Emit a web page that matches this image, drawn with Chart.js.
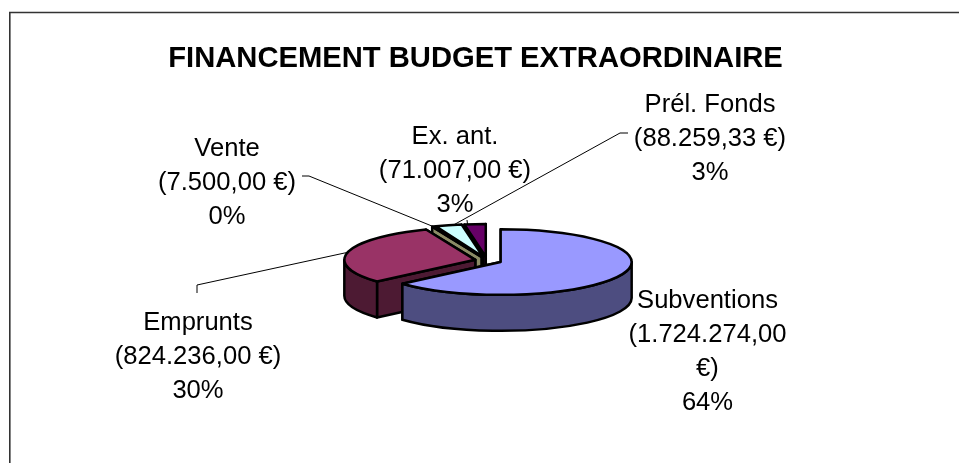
<!DOCTYPE html>
<html><head><meta charset="utf-8">
<style>html,body{margin:0;padding:0;background:#fff;overflow:hidden}#w{position:relative;width:959px;height:463px}canvas{display:block}</style>
<script src="https://cdn.jsdelivr.net/npm/chart.js@4/dist/chart.umd.min.js"></script>
</head><body><div id="w"><canvas id="c" width="959" height="463"></canvas></div>
<script>
const titleText = 'FINANCEMENT BUDGET EXTRAORDINAIRE';
const categories = ['Subventions', 'Emprunts', 'Vente', 'Prél. Fonds', 'Ex. ant.'];
const seriesValues = [1724274.00, 824236.00, 7500.00, 88259.33, 71007.00];
const amountLines = [['(1.724.274,00', '€)'], ['(824.236,00 €)'], ['(7.500,00 €)'], ['(88.259,33 €)'], ['(71.007,00 €)']];
const percentLabels = ['64%', '30%', '0%', '3%', '3%'];
const topColors = ['#9999FF', '#993366', '#999966', '#CCFFFF', '#660066'];
const sideColors = ['#4D4D80', '#4D1A33', '#8C8C66', '#668080', '#330033'];

// 3D look of the pie
const PIE = {cx: 487, cy: 260.5, radius: 131, flatten: 0.25, depth: 36, line: 2.5};
const explodeBy = [15, 12, 15, 15, 15];
// label placement: centre x, first baseline, leader elbows, where the leader meets the slice
const LABEL_STEP = 33.9;
const labelPlaces = [
  {x: 707.5, y: 308, leader: [], along: 0.5},
  {x: 198, y: 330, leader: [[197, 293], [197, 285]], along: 0.5},
  {x: 227, y: 156, leader: [[302, 176], [309, 176]], along: 0.5},
  {x: 710, y: 112, leader: [[628, 133], [620, 133]], along: 0.69},
  {x: 455, y: 144, leader: [[467, 220]], along: 0.15}
];

function geom(arc, i) {
  const mid = (arc.startAngle + arc.endAngle) / 2;
  const cx = PIE.cx + Math.cos(mid) * explodeBy[i];
  const cy = PIE.cy + Math.sin(mid) * explodeBy[i] * PIE.flatten;
  const rx = arc.outerRadius, ry = rx * PIE.flatten;
  return {mid, cx, cy, rx, ry, at: a => [cx + rx * Math.cos(a), cy + ry * Math.sin(a)]};
}
function stroke3d(ctx, fill) {
  ctx.fillStyle = fill; ctx.fill();
  ctx.strokeStyle = '#000'; ctx.lineWidth = PIE.line; ctx.lineJoin = 'round'; ctx.stroke();
}
function drawFace(ctx, g, a, fill) {
  const p = g.at(a);
  ctx.beginPath();
  ctx.moveTo(g.cx, g.cy); ctx.lineTo(p[0], p[1]);
  ctx.lineTo(p[0], p[1] + PIE.depth); ctx.lineTo(g.cx, g.cy + PIE.depth);
  ctx.closePath(); stroke3d(ctx, fill);
}
function drawWall(ctx, g, s, e, fill) {
  // outer wall, only on the front half of the ellipse
  const ranges = [[0, Math.PI], [2 * Math.PI, 3 * Math.PI]];
  ranges.forEach(r => {
    const a1 = Math.max(s, r[0]), a2 = Math.min(e, r[1]);
    if (a2 <= a1) return;
    ctx.beginPath();
    ctx.ellipse(g.cx, g.cy, g.rx, g.ry, 0, a1, a2);
    ctx.ellipse(g.cx, g.cy + PIE.depth, g.rx, g.ry, 0, a2, a1, true);
    ctx.closePath(); stroke3d(ctx, fill);
  });
}
const pie3d = {
  id: 'pie3d',
  beforeDatasetDraw(chart, args) {
    const ctx = chart.ctx, arcs = args.meta.data;
    ctx.save();
    // walls, back to front
    for (let i = arcs.length - 1; i >= 0; i--) {
      const g = geom(arcs[i], i);
      drawFace(ctx, g, arcs[i].endAngle, sideColors[i]);
      drawFace(ctx, g, arcs[i].startAngle, sideColors[i]);
      drawWall(ctx, g, arcs[i].startAngle, arcs[i].endAngle, sideColors[i]);
    }
    // top surfaces, drawn by the library's own arc elements
    for (let i = arcs.length - 1; i >= 0; i--) {
      const arc = arcs[i], g = geom(arc, i);
      ctx.save();
      ctx.translate(g.cx, g.cy);
      ctx.scale(1, PIE.flatten);
      ctx.translate(-arc.x, -arc.y);
      arc.draw(ctx);
      ctx.restore();
      ctx.beginPath();
      ctx.moveTo(g.cx, g.cy);
      ctx.ellipse(g.cx, g.cy, g.rx, g.ry, 0, arc.startAngle, arc.endAngle);
      ctx.closePath();
      ctx.strokeStyle = '#000'; ctx.lineWidth = PIE.line; ctx.lineJoin = 'round'; ctx.stroke();
    }
    ctx.restore();
    return false;
  },
  afterDraw(chart) {
    const ctx = chart.ctx, arcs = chart.getDatasetMeta(0).data;
    ctx.save();
    // frame: top and left rules only
    ctx.strokeStyle = '#333'; ctx.lineWidth = 1.6;
    ctx.beginPath(); ctx.moveTo(959, 12.5); ctx.lineTo(9.8, 12.5); ctx.lineTo(9.8, 463); ctx.stroke();
    // leaders
    ctx.strokeStyle = '#000'; ctx.lineWidth = 1;
    labelPlaces.forEach((p, i) => {
      if (!p.leader.length) return;
      const arc = arcs[i], g = geom(arc, i);
      const end = g.at(arc.startAngle + (arc.endAngle - arc.startAngle) * p.along);
      ctx.beginPath();
      p.leader.forEach((q, k) => k ? ctx.lineTo(q[0], q[1]) : ctx.moveTo(q[0], q[1]));
      ctx.lineTo(end[0], end[1]); ctx.stroke();
    });
    // labels
    ctx.fillStyle = '#000'; ctx.textAlign = 'center'; ctx.textBaseline = 'alphabetic';
    ctx.font = '25.6px "Liberation Sans"';
    categories.forEach((name, i) => {
      [name, ...amountLines[i], percentLabels[i]].forEach((t, k) => {
        ctx.fillText(t, labelPlaces[i].x, labelPlaces[i].y + k * LABEL_STEP);
      });
    });
    ctx.restore();
  }
};
Chart.register(pie3d);
new Chart(document.getElementById('c'), {
  type: 'pie',
  data: {labels: categories, datasets: [{data: seriesValues, backgroundColor: topColors, borderWidth: 0}]},
  options: {
    responsive: false, animation: false, events: [],
    radius: PIE.radius,
    layout: {padding: {left: 0, right: 8, top: 0, bottom: 0}},
    plugins: {
      legend: {display: false}, tooltip: {enabled: false},
      title: {display: true, text: titleText, color: '#000', align: 'center',
        font: {family: '"Liberation Sans"', size: 29.2, weight: 'bold'}, padding: {top: 41, bottom: 10}}
    }
  }
});
</script></body></html>
